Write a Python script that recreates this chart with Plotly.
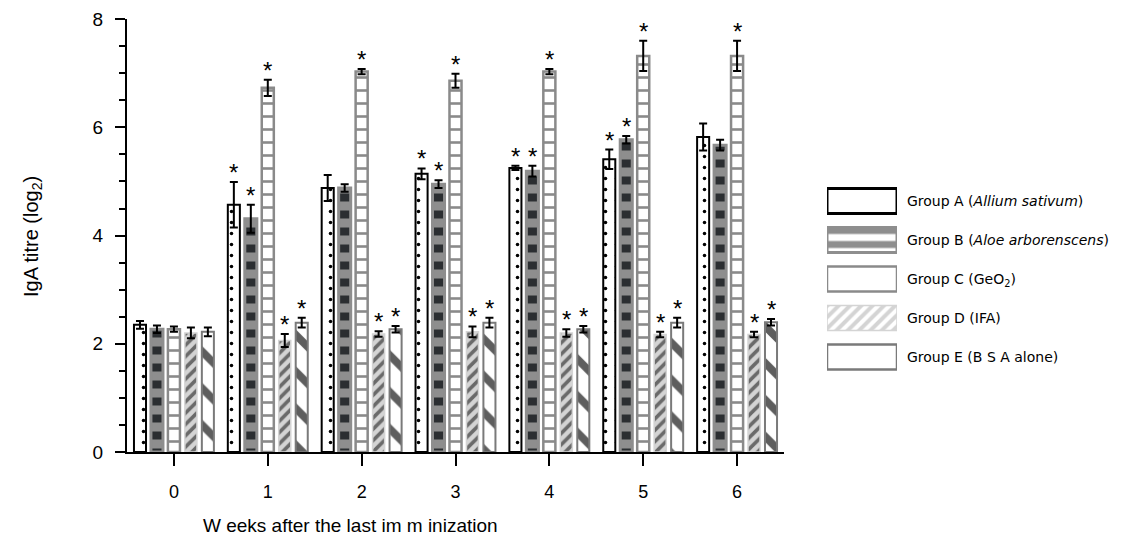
import plotly.graph_objects as go

weeks = [0, 1, 2, 3, 4, 5, 6]
week_labels = ["0", "1", "2", "3", "4", "5", "6"]

group_names = [
    "Group A (<i>Allium sativum</i>)",
    "Group B (<i>Aloe arborenscens</i>)",
    "Group C (GeO<sub>2</sub>)",
    "Group D (IFA)",
    "Group E (B S A alone)",
]

group_a = [2.35, 4.57, 4.88, 5.14, 5.25, 5.41, 5.82]
group_a_err = [0.07, 0.42, 0.24, 0.10, 0.04, 0.18, 0.25]
group_b = [2.27, 4.31, 4.88, 4.95, 5.19, 5.77, 5.67]
group_b_err = [0.07, 0.26, 0.07, 0.07, 0.10, 0.07, 0.10]
group_c = [2.27, 6.73, 7.03, 6.86, 7.03, 7.32, 7.32]
group_c_err = [0.05, 0.15, 0.05, 0.13, 0.05, 0.28, 0.28]
group_d = [2.20, 2.06, 2.18, 2.22, 2.20, 2.17, 2.17]
group_d_err = [0.10, 0.12, 0.05, 0.10, 0.07, 0.05, 0.05]
group_e = [2.22, 2.39, 2.27, 2.39, 2.27, 2.39, 2.40]
group_e_err = [0.08, 0.09, 0.06, 0.09, 0.06, 0.09, 0.06]

# significance markers (*)
sig_a = [0, 1, 0, 1, 1, 1, 0]
sig_b = [0, 1, 0, 1, 1, 1, 0]
sig_c = [0, 1, 1, 1, 1, 1, 1]
sig_d = [0, 1, 1, 1, 1, 1, 1]
sig_e = [0, 1, 1, 1, 1, 1, 1]

y_ticks = [0, 2, 4, 6, 8]
legend_swatch = [1, 1, 1, 1, 1]
legend_pos = [0, 1, 2, 3, 4]

values = [group_a, group_b, group_c, group_d, group_e]
errors = [group_a_err, group_b_err, group_c_err, group_d_err, group_e_err]
sigs = [sig_a, sig_b, sig_c, sig_d, sig_e]

styles = [
    dict(bg="white", fg="black", shape=".", size=11, sol=0.08, line="black", lw=2),
    dict(bg="#8e8e8e", fg="#2b2e31", shape="-", size=17, sol=0.47, line="#8e8e8e", lw=3),
    dict(bg="white", fg="#8a8a8a", shape="-", size=13, sol=0.2, line="#8a8a8a", lw=2.5),
    dict(bg="#d4d4d4", fg="#6a6a6a", shape="/", size=8, sol=0.45, line="#d4d4d4", lw=1.5),
    dict(bg="white", fg="#5e5e5e", shape="\\", size=26, sol=0.3, line="#7a7a7a", lw=2),
]

FONT = "Arial, Liberation Sans, sans-serif"
BARGAP = 0.096
BARGROUPGAP = 0.29

fig = go.Figure()

for i in range(5):
    s = styles[i]
    fig.add_trace(go.Bar(
        x=weeks, y=values[i], name=group_names[i], showlegend=False,
        marker=dict(color=s["bg"], line=dict(color=s["line"], width=s["lw"]),
                    pattern=dict(shape=s["shape"], fgcolor=s["fg"], bgcolor=s["bg"],
                                 size=s["size"], solidity=s["sol"], fillmode="replace")),
        error_y=dict(type="data", array=errors[i], color="black", thickness=2, width=4),
    ))

# asterisks
slot = (1 - BARGAP) / 5
for i in range(5):
    for k, w in enumerate(weeks):
        if sigs[i][k]:
            fig.add_annotation(
                x=w + (i - 2) * slot, y=values[i][k] + errors[i][k],
                xref="x", yref="y", text="*", showarrow=False,
                yanchor="bottom", yshift=-6,
                font=dict(family=FONT, size=24, color="black"))

# legend swatches as a small bar subplot
fig.add_trace(go.Bar(
    x=legend_swatch, y=legend_pos, orientation="h", xaxis="x2", yaxis="y2",
    showlegend=False, width=0.64, hoverinfo="skip",
    marker=dict(color=[s["bg"] for s in styles],
                line=dict(color=[s["line"] for s in styles], width=[3, 3, 2.5, 1.5, 2.5]),
                pattern=dict(shape=[s["shape"] for s in styles],
                             fgcolor=[s["fg"] for s in styles],
                             bgcolor=[s["bg"] for s in styles],
                             size=[12, 14, 16, 8, 22],
                             solidity=[0.06, 0.5, 0.15, 0.5, 0.45],
                             fillmode="replace")),
))

# the page body adds an 8px offset; figure coordinates = screen - 8
OFF = 8
W, H = 1113, 543
ml = 127 - OFF
mt = 19 - OFF
y0_px = 452 - OFF
x1_px = 784 - OFF
mr = 10
mb = H - y0_px
plot_w = W - ml - mr
plot_h = H - mt - mb


def px_x(p):
    return (p - OFF - ml) / plot_w


def px_y(p):
    return (y0_px - (p - OFF)) / plot_h


fig.update_layout(
    width=W, height=H,
    margin=dict(l=ml, r=mr, t=mt, b=mb, autoexpand=False),
    paper_bgcolor="white", plot_bgcolor="white",
    barmode="group", bargap=BARGAP, bargroupgap=BARGROUPGAP,
    font=dict(family=FONT, color="black"),
    xaxis=dict(domain=[0, (x1_px - ml) / plot_w], range=[-0.5, 6.5],
               tickvals=weeks, ticktext=week_labels, automargin=False,
               showline=True, linecolor="black", linewidth=2,
               ticks="outside", ticklen=12, tickwidth=2, tickcolor="black",
               showgrid=False, zeroline=False, tickfont=dict(size=18),
               ticklabelstandoff=10),
    yaxis=dict(range=[0, 8.002], tickvals=y_ticks, automargin=False,
               showline=True, linecolor="black", linewidth=2,
               ticks="outside", ticklen=10, tickwidth=2, tickcolor="black",
               minor=dict(dtick=0.5, ticks="outside", ticklen=6, tickwidth=2, tickcolor="black"),
               showgrid=False, zeroline=False, tickfont=dict(size=19),
               ticklabelstandoff=8, ticklabeloverflow="allow"),
    xaxis2=dict(domain=[px_x(827), px_x(897)], range=[0, 1],
                visible=False, fixedrange=True, automargin=False),
    yaxis2=dict(domain=[px_y(376.5), px_y(181.5)], anchor="x2",
                range=[4.5, -0.5], tickvals=legend_pos, ticktext=group_names,
                side="right", showline=False, showgrid=False, zeroline=False, ticks="",
                ticklabelstandoff=9, automargin=False,
                tickfont=dict(family="DejaVu Sans, Verdana, sans-serif", size=14)),
)

fig.add_annotation(
    text="W eeks after the last im m inization", showarrow=False,
    xref="paper", yref="paper", x=px_x(350), y=px_y(525),
    xanchor="center", yanchor="middle", font=dict(family=FONT, size=19))
fig.add_annotation(
    text="IgA titre (log<sub>2</sub>)", showarrow=False, textangle=-90,
    xref="paper", yref="paper", x=px_x(32), y=px_y(237),
    xanchor="center", yanchor="middle", font=dict(family=FONT, size=20))

fig.write_html("out.html")
